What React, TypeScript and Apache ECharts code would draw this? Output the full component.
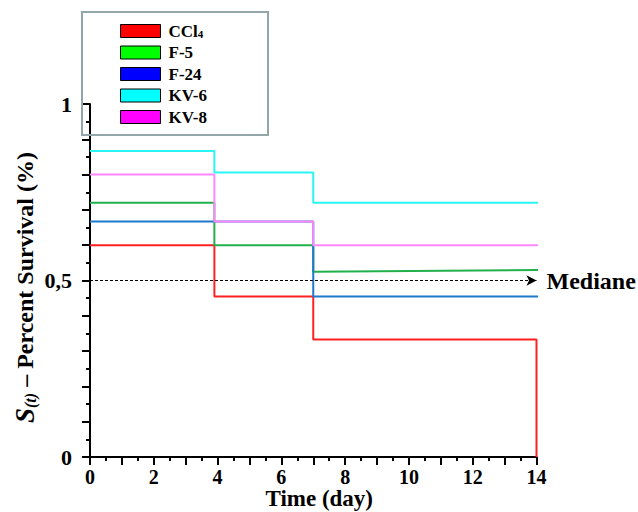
import React, { useEffect, useRef } from "react";
import * as echarts from "echarts";

const seriesNames = ["CCl4", "F-5", "F-24", "KV-6", "KV-8"];
const swatchColors = ["#ff0000", "#00ff00", "#0000ff", "#00ffff", "#ff00ff"];
const lineColors = ["#ff2020", "#22b04c", "#1f78cc", "#2af5f5", "#ff88ff"];

// step-curve vertices (time in days, survival fraction)
const ccl4Times = [0, 3.9, 3.9, 7, 7, 14, 14];
const ccl4Values = [0.6, 0.6, 0.455, 0.455, 0.333, 0.333, 0];
const f5Times = [0, 3.9, 3.9, 7, 7, 14.1];
const f5Values = [0.72, 0.72, 0.6, 0.6, 0.525, 0.53];
const f24Times = [0, 3.9, 7, 7, 14.1];
const f24Values = [0.667, 0.667, 0.667, 0.455, 0.455];
const kv6Times = [0, 3.9, 3.9, 7, 7, 14.1];
const kv6Values = [0.867, 0.867, 0.806, 0.806, 0.72, 0.72];
const kv8Times = [0, 3.9, 3.9, 7, 7, 14.1];
const kv8Values = [0.8, 0.8, 0.667, 0.667, 0.6, 0.6];

const medianValue = 0.5;
const medianStart = 0;
const medianEnd = 14;

const xTickLabels = ["0", "2", "4", "6", "8", "10", "12", "14"];
const yTickLabels: Record<string, string> = { "0": "0", "0.5": "0,5", "1": "1" };

const allTimes = [ccl4Times, f5Times, f24Times, kv6Times, kv8Times];
const allValues = [ccl4Values, f5Values, f24Values, kv6Values, kv8Values];

const FONT = '"Liberation Serif", "Times New Roman", serif';

export default function App() {
  const ref = useRef<HTMLDivElement>(null);
  useEffect(() => {
    if (!ref.current) return;
    const chart = echarts.init(ref.current, null, { renderer: "svg" });
    const series: any[] = seriesNames.map((name, i) => ({
      name,
      type: "line",
      data: allTimes[i].map((t, k) => [t, allValues[i][k]]),
      symbol: "none",
      clip: false,
      z: 2 + i,
      itemStyle: { color: swatchColors[i] },
      lineStyle: { color: lineColors[i], width: 2 },
    }));
    series.push({
      name: "median",
      type: "line",
      data: [],
      symbol: "none",
      markLine: {
        silent: true,
        symbol: ["none", "arrow"],
        symbolSize: [8, 10],
        lineStyle: { color: "#000", type: [3, 2], width: 1 },
        label: {
          show: true,
          position: "end",
          formatter: "Mediane",
          color: "#000",
          fontFamily: FONT,
          fontWeight: "bold",
          fontSize: 24,
          distance: 10,
        },
        data: [[{ coord: [medianStart, medianValue] }, { coord: [medianEnd, medianValue] }]],
      },
    });
    chart.setOption({
      animation: false,
      grid: { left: 90, right: 101.5, top: 104, bottom: 55, outerBoundsMode: "none", containLabel: false },
      legend: {
        orient: "vertical",
        left: 120,
        top: 22.5,
        padding: 0,
        itemWidth: 40,
        itemHeight: 13,
        itemGap: 4.5,
        icon: "rect",
        data: seriesNames.map((n, i) => ({
          name: n,
          itemStyle: { color: swatchColors[i], borderColor: "#000", borderWidth: 1 },
        })),
        formatter: (n: string) => (n === "CCl4" ? "CCl{sub|4}" : n),
        textStyle: {
          fontFamily: FONT,
          fontWeight: "bold",
          fontSize: 17,
          color: "#000",
          padding: [0, 0, 0, 3],
          rich: {
            sub: { fontFamily: FONT, fontWeight: "bold", fontSize: 11, verticalAlign: "bottom", color: "#000", padding: [5, 0, 0, 0] },
          },
        },
      },
      graphic: [
        {
          type: "rect",
          shape: { x: 82, y: 12, width: 186, height: 123 },
          style: { fill: "none", stroke: "#93a6a9", lineWidth: 2 },
          z: 10,
        },
      ],
      xAxis: {
        type: "value",
        min: 0,
        max: 14,
        interval: 1,
        name: "Time (day)",
        nameLocation: "middle",
        nameGap: 31,
        nameMoveOverlap: false,
        nameTextStyle: { fontFamily: FONT, fontWeight: "bold", fontSize: 23, lineHeight: 21, color: "#000", padding: [0, 0, 0, 12] },
        axisLine: { show: true, lineStyle: { color: "#000", width: 2 } },
        axisTick: { show: true, length: 8, lineStyle: { color: "#000", width: 2 } },
        minorTick: { show: true, splitNumber: 2, length: 4, lineStyle: { color: "#000", width: 2 } },
        splitLine: { show: false },
        axisLabel: {
          margin: 10,
          fontFamily: FONT,
          fontWeight: "bold",
          fontSize: 20,
          lineHeight: 19,
          color: "#000",
          formatter: (v: number) => (v % 2 === 0 ? xTickLabels[v / 2] : ""),
        },
      },
      yAxis: {
        type: "value",
        min: 0,
        max: 1,
        interval: 0.1,
        name: "{s|S}{t|(t)}{n| \u2013 Percent Survival (%)}",
        nameLocation: "middle",
        nameRotate: 90,
        nameGap: 52,
        nameMoveOverlap: false,
        nameTextStyle: {
          color: "#000",
          padding: [0, 14, 0, 0],
          rich: {
            s: { fontFamily: FONT, fontWeight: "bold", fontStyle: "italic", fontSize: 27, color: "#000" },
            t: { fontFamily: FONT, fontWeight: "bold", fontStyle: "italic", fontSize: 16, color: "#000", verticalAlign: "bottom", padding: [10, 0, 0, 0] },
            n: { fontFamily: FONT, fontWeight: "bold", fontSize: 24, color: "#000" },
          },
        },
        axisLine: { show: true, lineStyle: { color: "#000", width: 2 } },
        axisTick: { show: true, length: 8, lineStyle: { color: "#000", width: 2 } },
        minorTick: { show: true, splitNumber: 2, length: 4, lineStyle: { color: "#000", width: 2 } },
        splitLine: { show: false },
        axisLabel: {
          margin: 18,
          fontFamily: FONT,
          fontWeight: "bold",
          fontSize: 22,
          color: "#000",
          formatter: (v: number) => yTickLabels[String(Math.round(v * 10) / 10)] ?? "",
        },
      },
      series,
    });
    return () => chart.dispose();
  }, []);
  return <div ref={ref} style={{ width: 638, height: 512, position: "absolute", left: 0, top: 0 }} />;
}
